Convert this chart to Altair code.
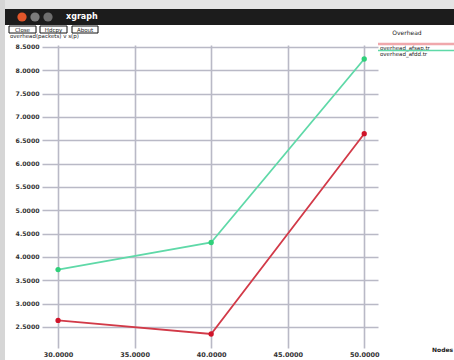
import altair as alt
import pandas as pd

# Overhead measured for each routing variant against the number of nodes
nodes = [30, 40, 50]
overhead_afsap = [2.64, 2.35, 6.64]
overhead_afdd = [3.73, 4.31, 8.24]

series_names = ["overhead_afsap.tr", "overhead_afdd.tr"]
series_colors = ["#d23a48", "#5fd9a8"]
point_colors = ["#d0142a", "#2fd07a"]

x_ticks = [30, 35, 40, 45, 50]
y_ticks = [2.5, 3.0, 3.5, 4.0, 4.5, 5.0, 5.5, 6.0, 6.5, 7.0, 7.5, 8.0, 8.5]

rows = []
for name, vals in zip(series_names, [overhead_afsap, overhead_afdd]):
    for n, v in zip(nodes, vals):
        rows.append({"nodes": n, "overhead": v, "series": name})
df = pd.DataFrame(rows)
one = pd.DataFrame({"k": [0]})

LABEL_FONT = "DejaVu Sans"
GRID = "#b9b9c6"

x_enc = alt.X(
    "nodes:Q",
    scale=alt.Scale(domain=[28.95, 50.9], nice=False, zero=False),
    axis=alt.Axis(values=x_ticks, format=".4f", title="", ticks=False, domain=False,
                  grid=True, gridColor=GRID, gridWidth=1.6, labelFont=LABEL_FONT,
                  labelFontSize=6.5, labelFontWeight="bold", labelColor="#333333",
                  labelPadding=3, labelOverlap=False),
)
y_enc = alt.Y(
    "overhead:Q",
    scale=alt.Scale(domain=[2.05, 8.54], nice=False, zero=False),
    axis=alt.Axis(values=y_ticks, format=".4f", title="", ticks=False, domain=False,
                  grid=True, gridColor=GRID, gridWidth=1.6, labelFont=LABEL_FONT,
                  labelFontSize=6.2, labelFontWeight="bold", labelColor="#333333",
                  labelPadding=3, labelOverlap=False),
)

base = alt.Chart(df).encode(x=x_enc, y=y_enc)
lines = base.mark_line(strokeWidth=1.8).encode(
    color=alt.Color("series:N", scale=alt.Scale(domain=series_names, range=series_colors), legend=None),
    detail="series:N",
)
points = base.mark_point(filled=True, size=28, opacity=1).encode(
    fill=alt.Fill("series:N", scale=alt.Scale(domain=series_names, range=point_colors), legend=None)
)

# Window frame: title bar, buttons and captions (positions relative to the plot origin)
def box(x, x2, y, y2, fill, stroke=None, sw=0):
    kw = {"fill": fill}
    if stroke:
        kw.update(stroke=stroke, strokeWidth=sw)
    return alt.Chart(one).mark_rect(**kw).encode(
        x=alt.value(x), x2=alt.value(x2), y=alt.value(y), y2=alt.value(y2))

def label(text, x, y, size=6.5, color="#222222", weight="normal", align="left"):
    return alt.Chart(one).mark_text(text=text, font=LABEL_FONT, fontSize=size, color=color,
                                    fontWeight=weight, align=align, baseline="middle").encode(
        x=alt.value(x), y=alt.value(y))

def dot(x, y, color):
    return alt.Chart(one).mark_point(filled=True, size=85, color=color, opacity=1).encode(
        x=alt.value(x), y=alt.value(y))

def hline(x, x2, y, color, w):
    return alt.Chart(one).mark_rule(color=color, strokeWidth=w).encode(
        x=alt.value(x), x2=alt.value(x2), y=alt.value(y))

OX, OY = 42, 45
frame = [
    box(-OX, 454 - OX, -OY, 9 - OY, "#e4e4e4"),
    box(-OX, 5 - OX, -OY, 360 - OY, "#d6d6d6"),
    box(5 - OX, 454 - OX, 9 - OY, 25 - OY, "#1c1c1c"),
    dot(22 - OX, 17 - OY, "#e2562a"),
    dot(35 - OX, 17 - OY, "#7c7c7c"),
    dot(48 - OX, 17 - OY, "#6e6e6e"),
    label("xgraph", 66 - OX, 17 - OY, size=8, color="#ffffff", weight="bold"),
    box(9 - OX, 36 - OX, 26 - OY, 33 - OY, "#ffffff", "#111111", 1),
    box(40 - OX, 67 - OX, 26 - OY, 33 - OY, "#ffffff", "#111111", 1),
    box(72 - OX, 98 - OX, 26 - OY, 33 - OY, "#ffffff", "#111111", 1),
    label("Close", 22.5 - OX, 29.5 - OY, size=5.5, align="center"),
    label("Hdcpy", 53.5 - OX, 29.5 - OY, size=5.5, align="center"),
    label("About", 85 - OX, 29.5 - OY, size=5.5, align="center"),
    label("overhead(packets) v s(p)", 10 - OX, 36 - OY, size=5.5),
    label("Overhead", 407 - OX, 33 - OY, size=6, align="center"),
    hline(378 - OX, 454 - OX, 44 - OY, "#f0a8ac", 2.5),
    label("overhead_afsap.tr", 380 - OX, 47.5 - OY, size=5.5),
    hline(378 - OX, 454 - OX, 50.5 - OY, "#5fd9a8", 1.5),
    label("overhead_afdd.tr", 380 - OX, 54 - OY, size=5.5),
    label("Nodes", 432 - OX, 350 - OY, size=6, weight="bold"),
]

chart = alt.layer(lines, points, *frame).properties(
    width=336, height=303,
    autosize=alt.AutoSizeParams(type="none"),
    padding={"left": 42, "top": 45, "right": 76, "bottom": 12},
    background="#ffffff",
).configure_view(strokeWidth=0)

chart.save("out.html", embed_options={"renderer": "svg", "actions": False})
